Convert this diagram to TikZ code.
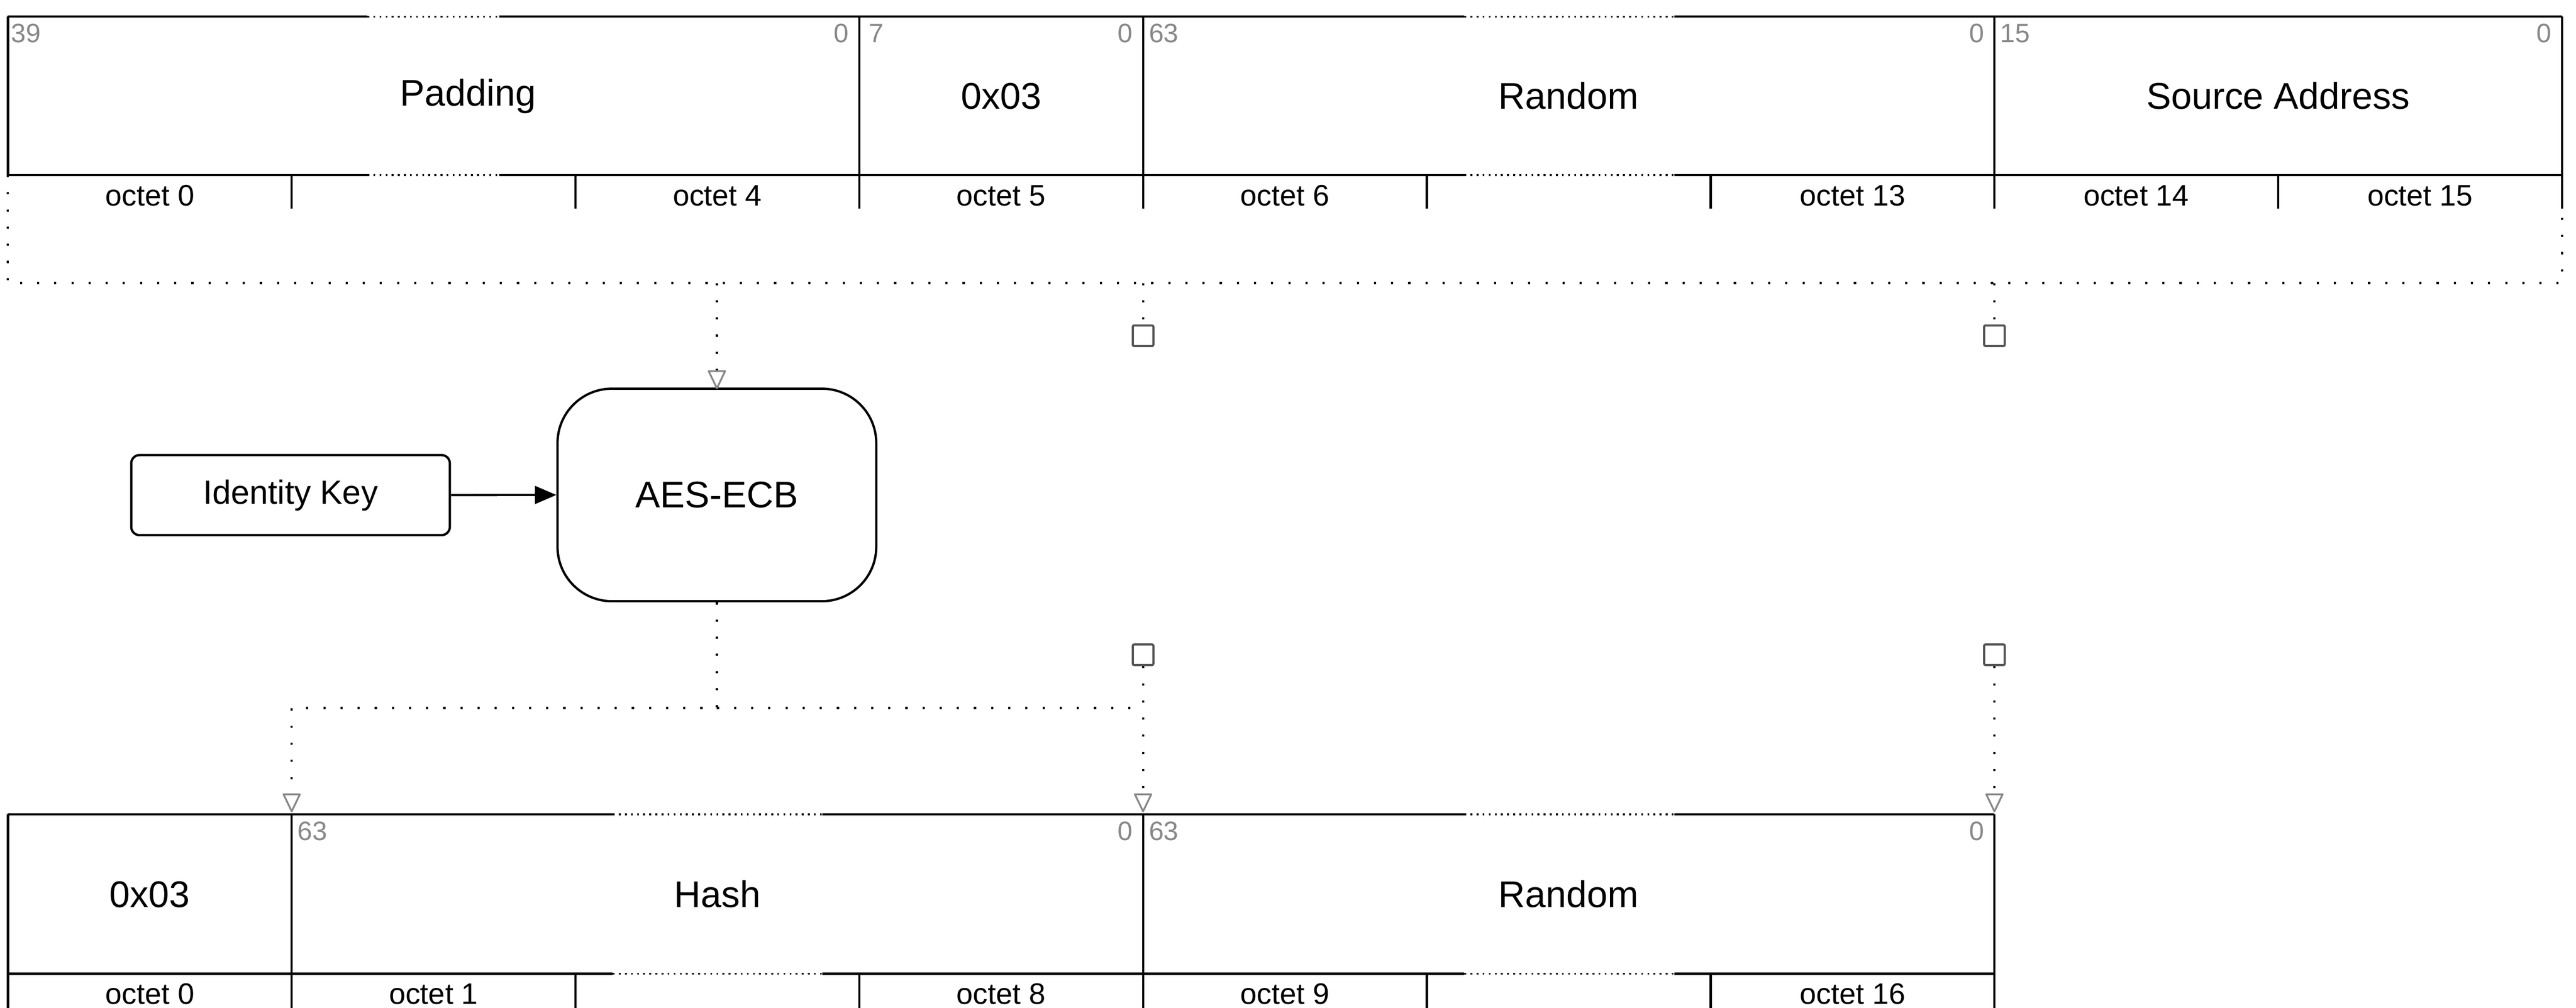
\documentclass[tikz,border=0pt]{standalone}
\usepackage{fontspec}
\setmainfont{Liberation Sans}
\usetikzlibrary{arrows.meta}
\definecolor{bitgray}{HTML}{888888}
\definecolor{sqgray}{HTML}{555555}
\begin{document}
\begin{tikzpicture}[x=1pt,y=-1pt,
  edge/.style={line width=1.35pt, line cap=butt},
  brk/.style={line width=1.1pt, dash pattern=on 1.1pt off 2.6pt},
  dotline/.style={line width=1.3pt, dash pattern=on 1.3pt off 9.1pt},
  fieldlbl/.style={font=\fontsize{22.5}{27}\selectfont, inner sep=0pt, anchor=base},
  octlbl/.style={font=\fontsize{18}{21}\selectfont, inner sep=0pt, anchor=base},
  bitl/.style={font=\fontsize{16.2}{19}\selectfont, text=bitgray, inner sep=0pt, anchor=base west},
  bitr/.style={font=\fontsize{16.2}{19}\selectfont, text=bitgray, inner sep=0pt, anchor=base east},
  opentip/.style={-{Triangle[open, length=12.2pt, width=11.4pt, line width=1.1pt, color=bitgray, round]}},
  solidtip/.style={-{Triangle[length=13pt, width=10.8pt]}},
  sqr/.style={draw=sqgray, line width=1.3pt, minimum size=12.5pt, inner sep=0pt, rounded corners=0.8pt},
  procbox/.style={draw, line width=1.4pt, align=center, inner sep=0pt}
]
\useasboundingbox (0,0) rectangle (1563.1,611.8);

% ---------------- top structure ----------------
\foreach \yy in {10.1,106.3}{
  \draw[edge] (4.8,\yy) -- (222.9,\yy);
  \draw[brk] (222.9,\yy) -- (302.8,\yy);
  \draw[edge] (302.8,\yy) -- (888.6,\yy);
  \draw[brk] (888.6,\yy) -- (1016,\yy);
  \draw[edge] (1016,\yy) -- (1554.6,\yy);
}
\foreach \xx in {4.8,521.4,693.6,1210.2,1554.6}{
  \draw[edge] (\xx,10.1) -- (\xx,106.3);
}
\foreach \xx in {177,349.2,521.4,693.6,865.8,1038,1210.2,1382.4,1554.6}{
  \draw[edge] (\xx,106.3) -- (\xx,126.7);
}

\node[fieldlbl] (padding) at (284,64.4) {Padding};
\node[fieldlbl] (t03) at (607.5,66.25) {0x03};
\node[fieldlbl] (trand) at (951.9,66.25) {Random};
\node[fieldlbl] (tsrc) at (1382.4,66.25) {Source Address};

\node[bitl] (b39) at (6.5,25.7) {39};
\node[bitr] (b39e) at (515.3,25.7) {0};
\node[bitl] (b7) at (527.0,25.7) {7};
\node[bitr] (b7e) at (687.5,25.7) {0};
\node[bitl] (b63a) at (696.95,25.7) {63};
\node[bitr] (b63ae) at (1204.1,25.7) {0};
\node[bitl] (b15) at (1213.5,25.7) {15};
\node[bitr] (b15e) at (1548.5,25.7) {0};

\node[octlbl] (to0) at (90.9,124.9) {octet 0};
\node[octlbl] (to4) at (435.3,124.9) {octet 4};
\node[octlbl] (to5) at (607.5,124.9) {octet 5};
\node[octlbl] (to6) at (779.7,124.9) {octet 6};
\node[octlbl] (to13) at (1124.1,124.9) {octet 13};
\node[octlbl] (to14) at (1296.3,124.9) {octet 14};
\node[octlbl] (to15) at (1468.5,124.9) {octet 15};

% ---------------- bottom structure ----------------
\foreach \yy in {494.2,591}{
  \draw[edge] (4.8,\yy) -- (371.8,\yy);
  \draw[brk] (371.8,\yy) -- (499,\yy);
  \draw[edge] (499,\yy) -- (888.6,\yy);
  \draw[brk] (888.6,\yy) -- (1016,\yy);
  \draw[edge] (1016,\yy) -- (1210.2,\yy);
}
\foreach \xx in {4.8,177,693.6,1210.2}{
  \draw[edge] (\xx,494.2) -- (\xx,591);
}
\foreach \xx in {4.8,177,349.2,521.4,693.6,865.8,1038,1210.2}{
  \draw[edge] (\xx,591) -- (\xx,613);
}

\node[fieldlbl] (b03) at (90.9,550.65) {0x03};
\node[fieldlbl] (hash) at (435.3,550.65) {Hash};
\node[fieldlbl] (brand) at (951.9,550.65) {Random};

\node[bitl] (h63) at (180.35,509.9) {63};
\node[bitr] (h0) at (687.5,509.9) {0};
\node[bitl] (r63) at (696.95,509.9) {63};
\node[bitr] (r0) at (1204.1,509.9) {0};

\node[octlbl] (bo0) at (90.9,609.3) {octet 0};
\node[octlbl] (bo1) at (263.1,609.3) {octet 1};
\node[octlbl] (bo8) at (607.5,609.3) {octet 8};
\node[octlbl] (bo9) at (779.7,609.3) {octet 9};
\node[octlbl] (bo16) at (1124.1,609.3) {octet 16};

% ---------------- processing ----------------
\node[procbox, rounded corners=5pt, minimum width=193.3pt, minimum height=48.6pt,
      font=\fontsize{20.3}{24}\selectfont] (idk) at (176.3,300.5) {Identity Key};
\node[procbox, rounded corners=33pt, minimum width=193.4pt, minimum height=129pt,
      font=\fontsize{22.5}{27}\selectfont] (aes) at (435,300.4) {AES-ECB};

\node[sqr] (sq1) at (693.6,203.8) {};
\node[sqr] (sq2) at (1210.2,203.8) {};
\node[sqr] (sq3) at (693.6,397.4) {};
\node[sqr] (sq4) at (1210.2,397.4) {};

% connector points
\coordinate (tl) at (4.8,106.3);
\coordinate (bl) at (4.8,171.8);
\coordinate (br) at (1554.6,171.8);
\coordinate (tr) at (1554.6,126.7);
\coordinate (ja) at (435,171.8);
\coordinate (jb) at (693.6,171.8);
\coordinate (jc) at (1210.2,171.8);
\coordinate (m1) at (435,429.7);
\coordinate (m2) at (177,429.7);
\coordinate (m3) at (693.6,429.7);
\coordinate (hin) at (177,493);
\coordinate (rin) at (693.6,493);
\coordinate (rin2) at (1210.2,493);

% connectors
\draw[edge, solidtip] (idk.east) -- (aes.west);
\draw[dotline] (tl) -- (bl) -- (br) -- (tr);
\draw[dotline, opentip] (ja) -- ([yshift=-1pt]aes.north);
\draw[dotline] (jb) -- (sq1.north);
\draw[dotline] (jc) -- (sq2.north);
\draw[dotline, opentip] (aes.south) -- (m1) -- (m2) -- (hin);
\draw[dotline] (m1) -- (m3);
\draw[dotline, opentip] (sq3.south) -- (rin);
\draw[dotline, opentip] (sq4.south) -- (rin2);
\end{tikzpicture}
\end{document}
